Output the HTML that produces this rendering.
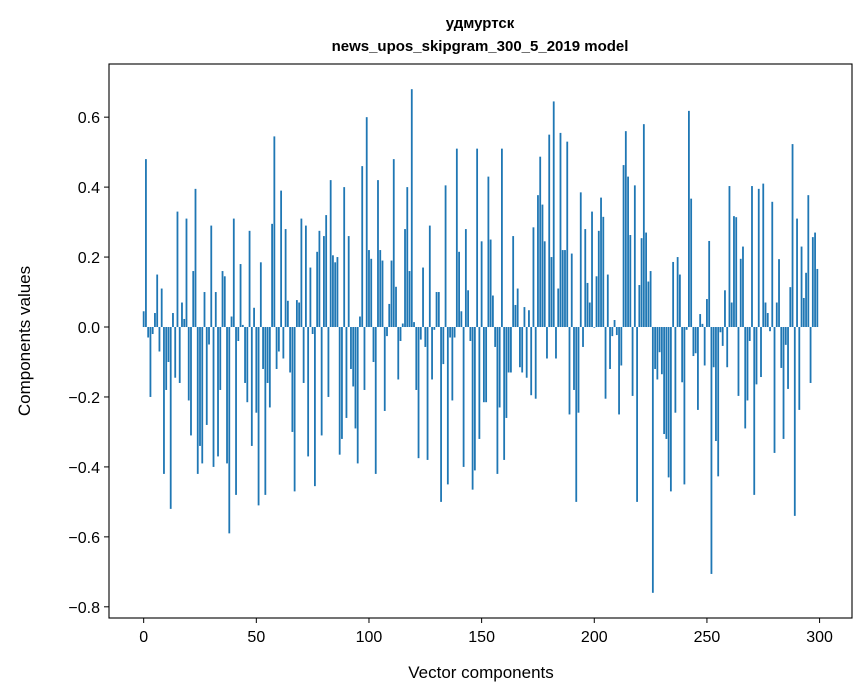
<!DOCTYPE html>
<html><head><meta charset="utf-8"><style>
html,body{margin:0;padding:0;background:#fff;}
svg{display:block;font-family:"Liberation Sans","DejaVu Sans",sans-serif;}
</style></head><body>
<svg id="chart" width="867" height="696" viewBox="0 0 867 696">
<rect width="867" height="696" fill="#fff"/>
<text x="480" y="28" text-anchor="middle" font-size="15" font-weight="bold">удмуртск</text>
<text x="480" y="51" text-anchor="middle" font-size="15" font-weight="bold">news_upos_skipgram_300_5_2019 model</text>
<g id="bars"></g>
<g id="yticks"></g>
<g id="xticks"></g>
<rect x="109" y="64" width="743" height="554" fill="none" stroke="#000" stroke-width="1.1"/>
<text x="481" y="678" text-anchor="middle" font-size="17">Vector components</text>
<text transform="translate(30,341) rotate(-90)" text-anchor="middle" font-size="17">Components values</text>
</svg>
<script>
const values = [
0.045,0.48,-0.03,-0.20,-0.02,0.04,0.15,-0.07,0.11,-0.42,
-0.18,-0.10,-0.52,0.04,-0.145,0.33,-0.16,0.07,0.023,0.31,
-0.21,-0.31,0.16,0.395,-0.42,-0.34,-0.39,0.10,-0.28,-0.05,
0.29,-0.40,0.10,-0.37,-0.18,0.16,0.145,-0.39,-0.59,0.03,
0.31,-0.48,-0.04,0.18,0.006,-0.16,-0.215,0.275,-0.34,0.055,
-0.245,-0.51,0.185,-0.12,-0.48,-0.16,-0.23,0.295,0.545,-0.12,
-0.07,0.39,-0.09,0.28,0.075,-0.13,-0.30,-0.47,0.077,0.07,
0.31,-0.16,0.29,-0.37,0.17,-0.02,-0.455,0.215,0.275,-0.31,
0.26,0.32,-0.20,0.42,0.205,0.185,0.20,-0.365,-0.32,0.40,
-0.26,0.26,-0.12,-0.17,-0.29,-0.39,0.03,0.46,-0.18,0.60,
0.22,0.195,-0.10,-0.42,0.42,0.22,0.19,-0.24,-0.026,0.066,
0.19,0.48,0.115,-0.15,-0.04,0.01,0.28,0.40,0.16,0.68,
0.014,-0.18,-0.375,-0.036,0.17,-0.057,-0.38,0.29,-0.15,-0.008,
0.10,0.10,-0.50,-0.106,0.405,-0.45,-0.03,-0.21,-0.03,0.51,
0.215,0.045,-0.40,0.28,0.105,-0.04,-0.465,-0.41,0.51,-0.32,
0.245,-0.215,-0.215,0.43,0.25,0.09,-0.057,-0.42,-0.23,0.51,
-0.38,-0.26,-0.13,-0.13,0.26,0.063,0.11,-0.115,-0.13,0.057,
-0.145,0.048,-0.195,0.285,-0.205,0.377,0.487,0.35,0.245,-0.09,
0.55,0.20,0.645,-0.09,0.11,0.555,0.22,0.22,0.53,-0.25,
0.21,-0.18,-0.50,-0.245,0.385,-0.057,0.28,0.126,0.07,0.33,
-0.002,0.145,0.275,0.37,0.315,-0.205,0.15,-0.12,-0.026,0.02,
-0.023,-0.25,-0.11,0.463,0.56,0.43,0.263,-0.197,0.405,-0.50,
0.12,0.254,0.58,0.27,0.13,0.16,-0.76,-0.12,-0.15,-0.072,
-0.135,-0.306,-0.32,-0.43,-0.47,0.186,-0.245,0.20,0.15,-0.158,
-0.45,-0.008,0.618,0.367,-0.083,-0.075,-0.237,0.037,0.009,-0.11,
0.08,0.246,-0.706,-0.115,-0.326,-0.427,-0.015,-0.054,0.105,-0.115,
0.403,0.07,0.317,0.314,-0.197,0.195,0.23,-0.29,-0.21,-0.04,
0.403,-0.48,-0.164,0.395,-0.143,0.41,0.07,0.04,-0.012,0.358,
-0.36,0.07,0.194,-0.117,-0.32,-0.051,-0.177,0.114,0.523,-0.54,
0.31,-0.237,0.23,0.083,0.155,0.377,-0.16,0.257,0.27,0.166
];
const yTickValues = [-0.8,-0.6,-0.4,-0.2,0.0,0.2,0.4,0.6];
const xTickValues = [0,50,100,150,200,250,300];

const NS = "http://www.w3.org/2000/svg";
const L = 109, R = 852, T = 64, B = 618;
const n = values.length;
const xmin = -0.4 - 0.05*(n - 1 + 0.8), xmax = n - 1 + 0.4 + 0.05*(n - 1 + 0.8);
const dmin = Math.min(0, ...values), dmax = Math.max(0, ...values);
const ymin = dmin - 0.05*(dmax - dmin), ymax = dmax + 0.05*(dmax - dmin);
function xScale(v){ return L + (v - xmin) / (xmax - xmin) * (R - L); }
function yScale(v){ return B - (v - ymin) / (ymax - ymin) * (B - T); }
function mk(tag, attrs, parent){ const e = document.createElementNS(NS, tag); for (const k in attrs) e.setAttribute(k, attrs[k]); parent.appendChild(e); return e; }
function fmt(v){ const s = Math.abs(v).toFixed(1); return (v < -1e-9 ? "\u2212" : "") + s; }

const gb = document.getElementById("bars");
values.forEach((v, i) => {
  const x0 = xScale(i - 0.4), x1 = xScale(i + 0.4);
  const y0 = yScale(0), y1 = yScale(v);
  const r = mk("rect", {x: x0, y: Math.min(y0, y1), width: x1 - x0, height: Math.max(Math.abs(y1 - y0), 0.3), fill: "#1f77b4"}, gb);
  
  
});

const gy = document.getElementById("yticks");
yTickValues.forEach(v => {
  const y = yScale(v);
  const ln = mk("line", {x1: L - 5, x2: L, y1: y, y2: y, stroke: "#000", "stroke-width": 1}, gy);
  
  
  const t = mk("text", {x: L - 9, y: y + 6, "text-anchor": "end", "font-size": 16}, gy);
  t.textContent = fmt(v);
  
  
});

const gx = document.getElementById("xticks");
xTickValues.forEach(v => {
  const x = xScale(v);
  const ln = mk("line", {x1: x, x2: x, y1: B, y2: B + 5, stroke: "#000", "stroke-width": 1}, gx);
  
  
  const t = mk("text", {x: x, y: B + 24, "text-anchor": "middle", "font-size": 16}, gx);
  t.textContent = String(v);
  
  
});
</script>
</body></html>
